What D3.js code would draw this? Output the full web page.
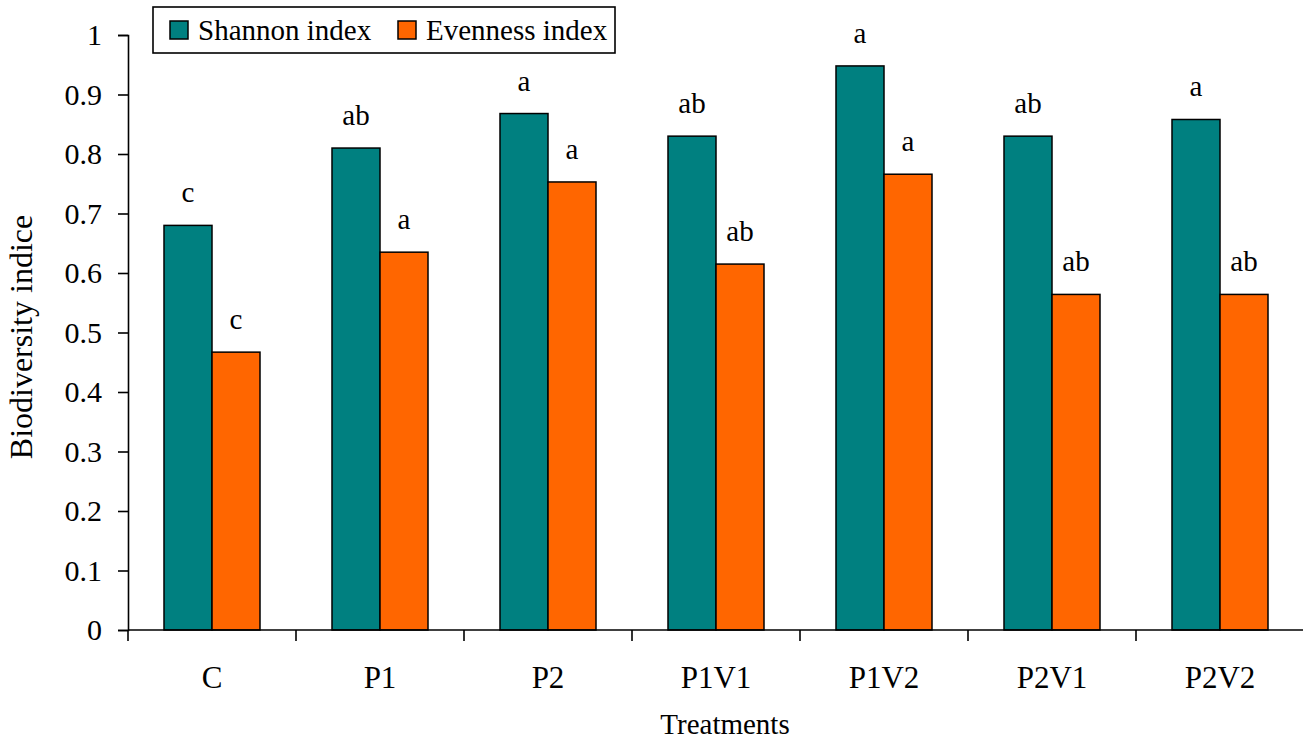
<!DOCTYPE html>
<html>
<head>
<meta charset="utf-8">
<script src="https://cdn.jsdelivr.net/npm/d3@7"></script>
<style>
  body { margin: 0; background: #fff; }
  text { font-family: "Liberation Serif", "Times New Roman", serif; fill: #000; }
</style>
</head>
<body>
<svg id="chart"></svg>
<script>
// data
var treatments = ["C", "P1", "P2", "P1V1", "P1V2", "P2V1", "P2V2"];
var shannon = [0.68, 0.81, 0.868, 0.83, 0.948, 0.83, 0.858];
var evenness = [0.467, 0.635, 0.753, 0.615, 0.766, 0.564, 0.564];
var shannonLetters = ["c", "ab", "a", "ab", "a", "ab", "a"];
var evennessLetters = ["c", "a", "a", "ab", "a", "ab", "ab"];
var seriesNames = ["Shannon index", "Evenness index"];
var yTicks = [0, 0.1, 0.2, 0.3, 0.4, 0.5, 0.6, 0.7, 0.8, 0.9, 1];

const width = 1303;
const height = 742;
const margin = { left: 128, right: -1, top: 35, bottom: 112 };
const fontSize = 29;

const svg = d3.select("#chart")
    .attr("width", width)
    .attr("height", height);

const colors = ["#008080", "#ff6600"];

// scales
const x = d3.scaleBand()
    .domain(treatments)
    .range([margin.left, width - margin.right])
    .paddingInner(72 / 168)
    .paddingOuter(36 / 168);

const x1 = d3.scaleBand()
    .domain([0, 1])
    .range([0, x.bandwidth()]);

const y = d3.scaleLinear()
    .domain([0, 1])
    .range([height - margin.bottom, margin.top]);

// y axis
const yAxis = svg.append("g")
    .attr("transform", "translate(" + margin.left + ",0)")
    .call(d3.axisLeft(y).tickValues(yTicks).tickSize(10).tickPadding(16)
        .tickFormat(d => d3.format("")(d)));
yAxis.select(".domain").attr("stroke", "#000").attr("stroke-width", 1.6);
yAxis.selectAll(".tick line").attr("stroke", "#000").attr("stroke-width", 1.6);
yAxis.selectAll(".tick text")
    .style("font-size", "30px")
    .attr("fill", "#000");

// bars
const groups = svg.append("g")
    .selectAll("g")
    .data(treatments)
    .enter()
    .append("g")
    .attr("transform", d => "translate(" + x(d) + ",0)");

const rows = treatments.map((t, i) => [
    { s: 0, v: shannon[i], lab: shannonLetters[i] },
    { s: 1, v: evenness[i], lab: evennessLetters[i] }
]);

groups.selectAll("rect")
    .data((d, i) => rows[i])
    .enter()
    .append("rect")
    .attr("x", d => x1(d.s))
    .attr("y", d => y(d.v))
    .attr("width", x1.bandwidth())
    .attr("height", d => y(0) - y(d.v))
    .attr("fill", d => colors[d.s])
    .attr("stroke", "#000")
    .attr("stroke-width", 1.5);

groups.selectAll("text.sig")
    .data((d, i) => rows[i])
    .enter()
    .append("text")
    .attr("class", "sig")
    .attr("x", d => x1(d.s) + x1.bandwidth() / 2)
    .attr("y", d => y(d.v) - 23)
    .attr("text-anchor", "middle")
    .style("font-size", fontSize + "px")
    .text(d => d.lab);

// x axis line and boundary ticks
const xAxis = svg.append("g");
xAxis.append("line")
    .attr("x1", margin.left)
    .attr("x2", width)
    .attr("y1", y(0))
    .attr("y2", y(0))
    .attr("stroke", "#000")
    .attr("stroke-width", 1.6);

const gap = (x.step() - x.bandwidth()) / 2;
const bounds = treatments.map(t => x(t) - gap);
xAxis.selectAll("line.tk")
    .data(bounds)
    .enter()
    .append("line")
    .attr("class", "tk")
    .attr("x1", d => d)
    .attr("x2", d => d)
    .attr("y1", y(0))
    .attr("y2", y(0) + 11)
    .attr("stroke", "#000")
    .attr("stroke-width", 1.6);

xAxis.selectAll("text")
    .data(treatments)
    .enter()
    .append("text")
    .attr("x", d => x(d) + x.bandwidth() / 2)
    .attr("y", y(0) + 58)
    .attr("text-anchor", "middle")
    .style("font-size", "31px")
    .text(d => d);

// axis titles
svg.append("text")
    .attr("x", 725)
    .attr("y", 734)
    .attr("text-anchor", "middle")
    .style("font-size", fontSize + "px")
    .text("Treatments");

svg.append("text")
    .attr("transform", "translate(32,337) rotate(-90)")
    .attr("text-anchor", "middle")
    .style("font-size", "32px")
    .text("Biodiversity indice");

// legend
const legend = svg.append("g");
legend.append("rect")
    .attr("x", 153)
    .attr("y", 7)
    .attr("width", 462)
    .attr("height", 46)
    .attr("fill", "#fff")
    .attr("stroke", "#000")
    .attr("stroke-width", 1.6);

const legendX = [170, 398];
seriesNames.forEach((name, i) => {
    legend.append("rect")
        .attr("x", legendX[i])
        .attr("y", 21)
        .attr("width", 18)
        .attr("height", 18)
        .attr("fill", colors[i])
        .attr("stroke", "#000")
        .attr("stroke-width", 1.5);
    legend.append("text")
        .attr("x", legendX[i] + 28)
        .attr("y", 40)
        .style("font-size", fontSize + "px")
        .text(name);
});
</script>
</body>
</html>
